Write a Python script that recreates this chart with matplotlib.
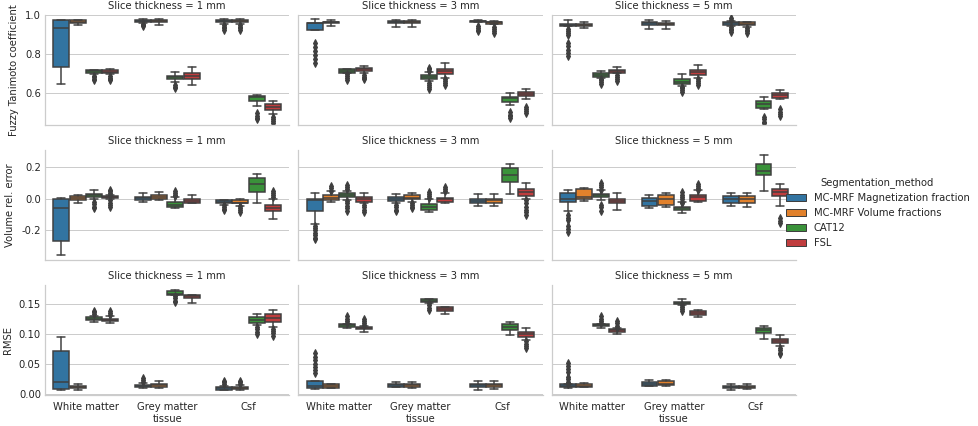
import matplotlib
matplotlib.use("Agg")
import matplotlib.pyplot as plt
from matplotlib.patches import Patch
from matplotlib.ticker import MultipleLocator, FormatStrFormatter
import seaborn as sns

# categories
methods = ["MC-MRF Magnetization fraction", "MC-MRF Volume fractions", "CAT12", "FSL"]
tissues = ["White matter", "Grey matter", "Csf"]
thickness = [1, 3, 5]
metrics = ["Fuzzy Tanimoto coefficient", "Volume rel. error", "RMSE"]

# box summaries:
# per tissue, per method: (whisker low, q1, median, q3, whisker high, fliers)
tanimoto_1mm = [
    [(0.643, 0.731, 0.933, 0.972, 0.976, []),
     (0.948, 0.958, 0.965, 0.972, 0.976, []),
     (0.698, 0.703, 0.711, 0.716, 0.719, [0.688, 0.680, 0.672, 0.664]),
     (0.695, 0.700, 0.708, 0.715, 0.720, [0.686, 0.678, 0.670, 0.665])],
    [(0.958, 0.961, 0.967, 0.974, 0.977, [0.955, 0.948, 0.942]),
     (0.948, 0.961, 0.967, 0.974, 0.977, []),
     (0.655, 0.669, 0.679, 0.685, 0.705, [0.640, 0.630, 0.622]),
     (0.638, 0.672, 0.686, 0.700, 0.731, [])],
    [(0.955, 0.961, 0.967, 0.974, 0.977, [0.948, 0.940, 0.932, 0.925]),
     (0.955, 0.961, 0.967, 0.974, 0.977, [0.948, 0.940, 0.932, 0.925]),
     (0.530, 0.557, 0.578, 0.581, 0.590, [0.494, 0.482, 0.470, 0.463]),
     (0.491, 0.509, 0.525, 0.540, 0.556, [0.476, 0.465, 0.455, 0.446])],
]
tanimoto_3mm = [
    [(0.920, 0.920, 0.958, 0.959, 0.979, [0.857, 0.835, 0.815, 0.795, 0.775, 0.755]),
     (0.943, 0.958, 0.962, 0.965, 0.975, []),
     (0.700, 0.703, 0.712, 0.721, 0.722, [0.697, 0.688, 0.678, 0.667]),
     (0.703, 0.714, 0.720, 0.729, 0.736, [0.690, 0.682, 0.675, 0.670])],
    [(0.938, 0.958, 0.965, 0.969, 0.975, []),
     (0.940, 0.958, 0.965, 0.969, 0.976, []),
     (0.659, 0.672, 0.682, 0.690, 0.709, [0.728, 0.720, 0.713, 0.650, 0.640, 0.630, 0.621]),
     (0.678, 0.698, 0.712, 0.722, 0.752, [0.670, 0.660, 0.650, 0.641])],
    [(0.963, 0.963, 0.967, 0.970, 0.972, [0.945, 0.935, 0.925, 0.915]),
     (0.952, 0.955, 0.962, 0.966, 0.968, [0.936, 0.926, 0.916, 0.907]),
     (0.535, 0.550, 0.571, 0.579, 0.597, [0.499, 0.488, 0.478, 0.468]),
     (0.566, 0.581, 0.592, 0.602, 0.618, [0.526, 0.515, 0.505, 0.495])],
]
tanimoto_5mm = [
    [(0.941, 0.941, 0.950, 0.955, 0.975, [0.928, 0.918, 0.908, 0.899, 0.858, 0.840, 0.820, 0.805, 0.790]),
     (0.933, 0.945, 0.950, 0.955, 0.965, []),
     (0.676, 0.683, 0.692, 0.700, 0.712, [0.672, 0.663, 0.654, 0.645]),
     (0.700, 0.702, 0.710, 0.717, 0.731, [0.690, 0.680, 0.670, 0.660])],
    [(0.928, 0.948, 0.960, 0.965, 0.975, []),
     (0.930, 0.946, 0.953, 0.960, 0.970, []),
     (0.635, 0.645, 0.657, 0.669, 0.697, [0.631, 0.622, 0.613, 0.605]),
     (0.674, 0.693, 0.706, 0.717, 0.743, [0.670, 0.660, 0.650, 0.641])],
    [(0.945, 0.950, 0.957, 0.962, 0.968, [0.985, 0.975, 0.940, 0.930, 0.920, 0.912]),
     (0.940, 0.947, 0.955, 0.962, 0.966, [0.935, 0.925, 0.915, 0.907]),
     (0.516, 0.522, 0.540, 0.557, 0.576, [0.473, 0.463, 0.452, 0.442]),
     (0.566, 0.573, 0.587, 0.597, 0.612, [0.514, 0.503, 0.493, 0.483])],
]

volerr_1mm = [
    [(-0.356, -0.269, -0.0625, -0.006, 0.004, []),
     (-0.025, -0.010, 0.002, 0.017, 0.021, []),
     (-0.006, 0.010, 0.019, 0.027, 0.052, [-0.021, -0.035, -0.050, -0.062]),
     (-0.004, 0.002, 0.008, 0.015, 0.019, [0.056, 0.045, 0.035, 0.025, -0.010, -0.025, -0.040, -0.052])],
    [(-0.019, -0.008, 0.002, 0.010, 0.033, []),
     (-0.008, -0.002, 0.010, 0.019, 0.040, []),
     (-0.0625, -0.052, -0.040, -0.023, 0.010, [0.048, 0.036, 0.025, 0.015]),
     (-0.027, -0.027, -0.013, -0.006, 0.021, [])],
    [(-0.0375, -0.027, -0.020, -0.010, -0.008, [-0.040, -0.052, -0.063, -0.073]),
     (-0.044, -0.031, -0.025, -0.010, -0.006, [-0.048, -0.060, -0.072, -0.083]),
     (-0.031, 0.042, 0.088, 0.131, 0.152, []),
     (-0.131, -0.077, -0.060, -0.0375, -0.006, [0.048, 0.035, 0.022, 0.010])],
]
volerr_3mm = [
    [(-0.1625, -0.077, -0.010, 0.000, 0.0375, [-0.171, -0.185, -0.200, -0.215, -0.230, -0.245, -0.254]),
     (-0.019, -0.010, 0.006, 0.019, 0.048, [0.079, 0.065, 0.050]),
     (-0.010, 0.008, 0.019, 0.033, 0.048, [0.0875, 0.075, 0.062, -0.015, -0.030, -0.045, -0.060, -0.077]),
     (-0.027, -0.023, -0.002, 0.008, 0.033, [-0.042, -0.055, -0.070, -0.083])],
    [(-0.031, -0.015, 0.000, 0.008, 0.027, [-0.040, -0.055, -0.070, -0.077]),
     (-0.019, -0.006, 0.006, 0.021, 0.0375, [-0.025, -0.040, -0.055, -0.0625]),
     (-0.083, -0.073, -0.054, -0.035, -0.002, [0.040, 0.028, 0.016, 0.005]),
     (-0.025, -0.021, -0.006, 0.006, 0.0375, [0.071, 0.060, 0.048])],
    [(-0.044, -0.027, -0.013, -0.002, 0.027, []),
     (-0.044, -0.027, -0.012, -0.002, 0.027, []),
     (0.027, 0.104, 0.146, 0.194, 0.215, []),
     (-0.006, 0.017, 0.044, 0.058, 0.100, [-0.010, -0.030, -0.050, -0.070, -0.085, -0.104])],
]
volerr_5mm = [
    [(-0.079, -0.021, -0.004, 0.0375, 0.056, [-0.104, -0.120, -0.135, -0.171, -0.190, -0.208]),
     (-0.017, -0.004, 0.008, 0.058, 0.069, []),
     (-0.010, 0.008, 0.019, 0.031, 0.052, [0.098, 0.085, 0.070, 0.056, -0.0375, -0.055, -0.079]),
     (-0.069, -0.031, -0.015, 0.000, 0.0375, [])],
    [(-0.0625, -0.044, -0.013, 0.006, 0.025, []),
     (-0.056, -0.0375, -0.004, 0.019, 0.0375, []),
     (-0.092, -0.075, -0.060, -0.050, -0.021, [0.042, 0.025, 0.010, -0.005, -0.020, -0.031]),
     (-0.023, -0.0125, 0.008, 0.019, 0.052, [0.092, 0.080, 0.068, 0.056])],
    [(-0.048, -0.025, -0.006, 0.017, 0.033, []),
     (-0.056, -0.031, -0.006, 0.017, 0.033, []),
     (0.046, 0.146, 0.171, 0.219, 0.275, []),
     (-0.048, 0.015, 0.044, 0.0625, 0.090, [-0.125, -0.140, -0.156])],
]

rmse_1mm = [
    [(0.006, 0.0078, 0.019, 0.072, 0.095, []),
     (0.007, 0.0089, 0.011, 0.0127, 0.016, []),
     (0.121, 0.1235, 0.126, 0.128, 0.131, [0.1395, 0.137, 0.134]),
     (0.119, 0.122, 0.124, 0.126, 0.130, [0.138, 0.135, 0.132])],
    [(0.0094, 0.0105, 0.013, 0.015, 0.0177, [0.026, 0.023, 0.020]),
     (0.0094, 0.0105, 0.014, 0.016, 0.021, []),
     (0.165, 0.166, 0.168, 0.1717, 0.174, [0.1645, 0.160, 0.156, 0.153]),
     (0.152, 0.161, 0.1645, 0.166, 0.166, [])],
    [(0.006, 0.007, 0.009, 0.011, 0.0127, [0.0216, 0.019, 0.016]),
     (0.007, 0.008, 0.010, 0.012, 0.014, [0.0216, 0.019, 0.016]),
     (0.1146, 0.119, 0.1235, 0.128, 0.133, [0.112, 0.108, 0.104, 0.0997]),
     (0.112, 0.120, 0.127, 0.133, 0.1406, [0.109, 0.105, 0.101, 0.097])],
]
rmse_3mm = [
    [(0.0078, 0.0094, 0.0127, 0.0216, 0.0216, [0.0675, 0.062, 0.056, 0.050, 0.045, 0.039, 0.0343]),
     (0.0089, 0.0094, 0.0127, 0.0166, 0.017, []),
     (0.111, 0.1118, 0.1146, 0.1168, 0.117, [0.130, 0.126, 0.122, 0.1185]),
     (0.104, 0.1085, 0.110, 0.1118, 0.114, [0.1257, 0.122, 0.118, 0.1146])],
    [(0.011, 0.011, 0.0138, 0.016, 0.0194, []),
     (0.0094, 0.0116, 0.0144, 0.017, 0.020, []),
     (0.152, 0.1534, 0.1556, 0.1584, 0.1595, [0.1517, 0.148, 0.144, 0.1406]),
     (0.134, 0.139, 0.142, 0.145, 0.146, [])],
    [(0.006, 0.0105, 0.0138, 0.0166, 0.0216, []),
     (0.0078, 0.0105, 0.0138, 0.0166, 0.0216, []),
     (0.098, 0.1069, 0.1113, 0.1163, 0.121, []),
     (0.0908, 0.0952, 0.0997, 0.103, 0.1107, [0.0886, 0.084, 0.080, 0.0759])],
]
rmse_5mm = [
    [(0.0094, 0.0116, 0.013, 0.0155, 0.016, [0.0277, 0.024, 0.020, 0.0166, 0.052, 0.047, 0.042, 0.0365]),
     (0.0105, 0.011, 0.013, 0.016, 0.0177, []),
     (0.111, 0.113, 0.115, 0.1174, 0.1174, [0.1296, 0.126, 0.122, 0.1185]),
     (0.1008, 0.103, 0.106, 0.1085, 0.110, [0.1218, 0.118, 0.114, 0.1107])],
    [(0.0133, 0.0133, 0.0155, 0.0194, 0.023, []),
     (0.0122, 0.0144, 0.017, 0.0205, 0.023, []),
     (0.149, 0.150, 0.152, 0.1545, 0.158, [0.148, 0.145, 0.142, 0.1395]),
     (0.1285, 0.132, 0.135, 0.138, 0.1406, [])],
    [(0.006, 0.0089, 0.011, 0.0133, 0.016, []),
     (0.0078, 0.0089, 0.011, 0.0133, 0.016, []),
     (0.0925, 0.1019, 0.1063, 0.1107, 0.114, []),
     (0.080, 0.0842, 0.088, 0.0914, 0.099, [0.077, 0.073, 0.069, 0.066])],
]

table = [
    [tanimoto_1mm, tanimoto_3mm, tanimoto_5mm],
    [volerr_1mm, volerr_3mm, volerr_5mm],
    [rmse_1mm, rmse_3mm, rmse_5mm],
]
row_ylims = [(0.433, 1.0), (-0.386, 0.306), (-0.002, 0.183)]
row_steps = [0.2, 0.2, 0.05]
row_formats = ["%.1f", "%.1f", "%.2f"]

sns.set_theme(style="whitegrid")
plt.rcParams.update({
    "font.family": ["DejaVu Sans"],
    "font.size": 10,
    "axes.titlesize": 10,
    "axes.labelsize": 10,
    "xtick.labelsize": 10,
    "ytick.labelsize": 10,
    "legend.fontsize": 10,
    "legend.title_fontsize": 10,
})

colors = sns.color_palette("tab10", n_colors=4, desat=0.75)
gray = "#3f3f3f"

fig, axes = plt.subplots(3, 3, figsize=(978 / 72, 426 / 72), dpi=72, sharex=True, sharey="row")
fig.subplots_adjust(left=0.046, right=0.814, top=0.965, bottom=0.073, wspace=0.037, hspace=0.222)

n = len(methods)
w = 0.8 / n
for r in range(3):
    for c in range(3):
        ax = axes[r, c]
        data = table[r][c]
        for j in range(n):
            stats = []
            pos = []
            for i in range(len(tissues)):
                lo, q1, med, q3, hi, fl = data[i][j]
                stats.append(dict(whislo=lo, q1=q1, med=med, q3=q3, whishi=hi, fliers=fl))
                pos.append(i - 0.4 + w * (j + 0.5))
            ax.bxp(stats, positions=pos, widths=w * 0.98, patch_artist=True, manage_ticks=False,
                   boxprops=dict(facecolor=colors[j], edgecolor=gray, linewidth=1.5),
                   medianprops=dict(color=gray, linewidth=1.5),
                   whiskerprops=dict(color=gray, linewidth=1.5),
                   capprops=dict(color=gray, linewidth=1.5),
                   flierprops=dict(marker="d", markerfacecolor=gray, markeredgecolor=gray,
                                   markersize=5, linestyle="none"))
        ax.set_xlim(-0.5, len(tissues) - 0.5)
        ax.set_ylim(*row_ylims[r])
        ax.yaxis.set_major_locator(MultipleLocator(row_steps[r]))
        ax.yaxis.set_major_formatter(FormatStrFormatter(row_formats[r]))
        ax.xaxis.grid(False)
        ax.set_title("Slice thickness = %d mm" % thickness[c])
        if c == 0:
            ax.set_ylabel(metrics[r], labelpad=6)
        if r == 2:
            ax.set_xlabel("tissue", labelpad=2)
            ax.set_xticks(range(len(tissues)))
            ax.set_xticklabels(tissues)
        ax.tick_params(axis="y", length=0, pad=4)
        ax.tick_params(axis="x", length=0, pad=7)
        sns.despine(ax=ax)

handles = [Patch(facecolor=colors[j], edgecolor=gray, linewidth=1) for j in range(n)]
fig.legend(handles, methods, title="Segmentation_method", loc="center left",
           bbox_to_anchor=(0.794, 0.5), frameon=False)

fig.savefig("out.png", dpi=72)
